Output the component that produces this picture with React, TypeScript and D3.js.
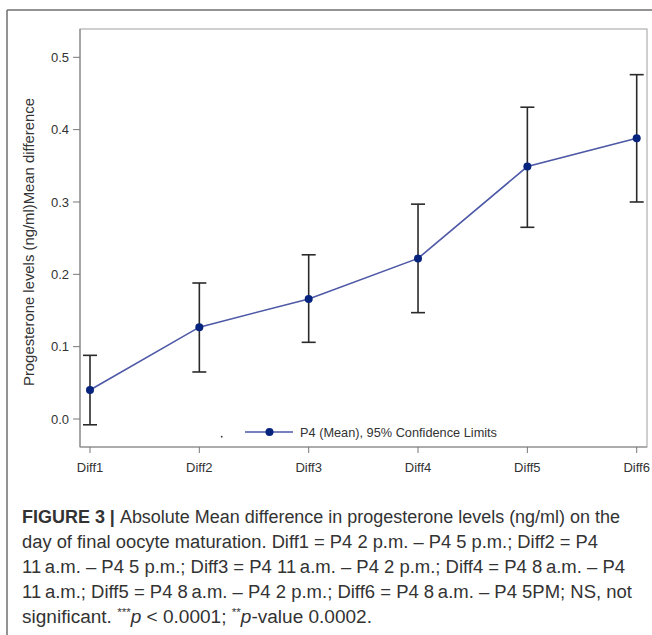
import React from "react";
import * as d3 from "d3";

const categories = ["Diff1", "Diff2", "Diff3", "Diff4", "Diff5", "Diff6"];
const meanValues = [0.04, 0.127, 0.166, 0.222, 0.349, 0.388];
const lowerValues = [-0.008, 0.065, 0.106, 0.147, 0.265, 0.3];
const upperValues = [0.088, 0.188, 0.227, 0.297, 0.431, 0.476];
const yTicks = [0.0, 0.1, 0.2, 0.3, 0.4, 0.5];
const yLabel = "Progesterone levels (ng/ml)Mean difference";
const legendLabel = "P4 (Mean), 95% Confidence Limits";
const captionLines = [
  "Absolute Mean difference in progesterone levels (ng/ml) on the",
  "day of final oocyte maturation. Diff1 = P4 2 p.m. \u2013 P4 5 p.m.; Diff2 = P4",
  "11\u2009a.m. \u2013 P4 5 p.m.; Diff3 = P4 11\u2009a.m. \u2013 P4 2 p.m.; Diff4 = P4 8\u2009a.m. \u2013 P4",
  "11\u2009a.m.; Diff5 = P4 8\u2009a.m. \u2013 P4 2 p.m.; Diff6 = P4 8\u2009a.m. \u2013 P4 5PM; NS, not",
];

export default function App() {
  const W = 652, H = 635;
  const plotLeft = 80, plotRight = 647, plotTop = 29, plotBottom = 447;
  const x = d3.scalePoint<string>().domain(categories).range([90, 636.7]);
  const y = d3.scaleLinear().domain([0, 0.5]).range([419, 57.3]);
  const data = categories.map((c, i) => ({ c, m: meanValues[i], lo: lowerValues[i], hi: upperValues[i] }));
  const line = d3.line<{ c: string; m: number }>().x(d => x(d.c)!).y(d => y(d.m));
  const font = "'Liberation Sans', Arial, sans-serif";
  const capFont = "'Liberation Sans', Arial, sans-serif";
  const lineColor = "#4d58a6";
  const markerColor = "#06237e";
  const capY = [517, 542, 567, 592, 617];
  const capEnds = [620, 598, 625, 632, 372];
  const capSize = 18;

  return (
    <svg width={W} height={H} style={{ position: "absolute", left: 0, top: 0, background: "#fff" }}>
      <rect x={0} y={0} width={W} height={H} fill="#fff" />
      {/* outer frame */}
      <line x1={7} y1={10} x2={W} y2={10} stroke="#6f6f6f" strokeWidth={1.5} />
      <line x1={7} y1={10} x2={7} y2={H} stroke="#6f6f6f" strokeWidth={1.5} />
      {/* plot frame */}
      <rect x={plotLeft} y={plotTop} width={plotRight - plotLeft} height={plotBottom - plotTop} fill="none" stroke="#b0b0b0" strokeWidth={1.2} />
      <line x1={plotLeft} y1={plotTop} x2={plotLeft} y2={plotBottom} stroke="#8a8a8a" strokeWidth={1.2} />
      <line x1={plotLeft} y1={plotBottom} x2={plotRight} y2={plotBottom} stroke="#8a8a8a" strokeWidth={1.2} />
      {/* y ticks */}
      {yTicks.map(t => (
        <g key={t}>
          <line x1={73} x2={plotLeft} y1={y(t)} y2={y(t)} stroke="#777" strokeWidth={1} />
          <text x={69} y={y(t)} dy="0.35em" textAnchor="end" fontFamily={font} fontSize={13} fill="#333">{t.toFixed(1)}</text>
        </g>
      ))}
      {/* x ticks */}
      {categories.map(c => (
        <g key={c}>
          <line x1={x(c)} x2={x(c)} y1={plotBottom} y2={453} stroke="#777" strokeWidth={1} />
          <text x={x(c)} y={467} dy="0.35em" textAnchor="middle" fontFamily={font} fontSize={13} fill="#333">{c}</text>
        </g>
      ))}
      {/* y label */}
      <text transform={`translate(29,242) rotate(-90)`} textAnchor="middle" dy="0.35em" fontFamily={font} fontSize={15} fill="#333" textLength={288} lengthAdjust="spacingAndGlyphs">{yLabel}</text>
      {/* error bars */}
      {data.map(d => (
        <g key={d.c} stroke="#2a2a2a" strokeWidth={1.6}>
          <line x1={x(d.c)} x2={x(d.c)} y1={y(d.lo)} y2={y(d.hi)} />
          <line x1={x(d.c)! - 7} x2={x(d.c)! + 7} y1={y(d.lo)} y2={y(d.lo)} />
          <line x1={x(d.c)! - 7} x2={x(d.c)! + 7} y1={y(d.hi)} y2={y(d.hi)} />
        </g>
      ))}
      <path d={line(data) || ""} fill="none" stroke={lineColor} strokeWidth={1.6} />
      {data.map(d => (
        <circle key={d.c} cx={x(d.c)} cy={y(d.m)} r={4} fill={markerColor} />
      ))}
      {/* legend */}
      <circle cx={221.7} cy={436.7} r={0.9} fill="#333" />
      <line x1={245} x2={293} y1={432} y2={432} stroke={lineColor} strokeWidth={1.6} />
      <circle cx={269.5} cy={432} r={4} fill={markerColor} />
      <text x={300} y={432} dy="0.35em" fontFamily={font} fontSize={13} fill="#333" textLength={197} lengthAdjust="spacingAndGlyphs">{legendLabel}</text>
      {/* caption */}
      <text x={22} y={capY[0]} dy="0.35em" fontFamily={capFont} fontSize={capSize} fill="#333" textLength={capEnds[0] - 22} lengthAdjust="spacingAndGlyphs">
        <tspan fontWeight="bold">FIGURE 3 | </tspan>
        <tspan>{captionLines[0]}</tspan>
      </text>
      {captionLines.slice(1).map((l, i) => (
        <text key={i} x={22} y={capY[i + 1]} dy="0.35em" fontFamily={capFont} fontSize={capSize} fill="#333" textLength={capEnds[i + 1] - 22} lengthAdjust="spacingAndGlyphs">{l}</text>
      ))}
      <text x={22} y={capY[4]} dy="0.35em" fontFamily={capFont} fontSize={capSize} fill="#333" textLength={capEnds[4] - 22} lengthAdjust="spacingAndGlyphs">
        significant. <tspan fontSize={11} dy="-7">***</tspan><tspan dy="7" fontStyle="italic">p</tspan> &lt; 0.0001; <tspan fontSize={11} dy="-7">**</tspan><tspan dy="7" fontStyle="italic">p</tspan>-value 0.0002.
      </text>
    </svg>
  );
}
